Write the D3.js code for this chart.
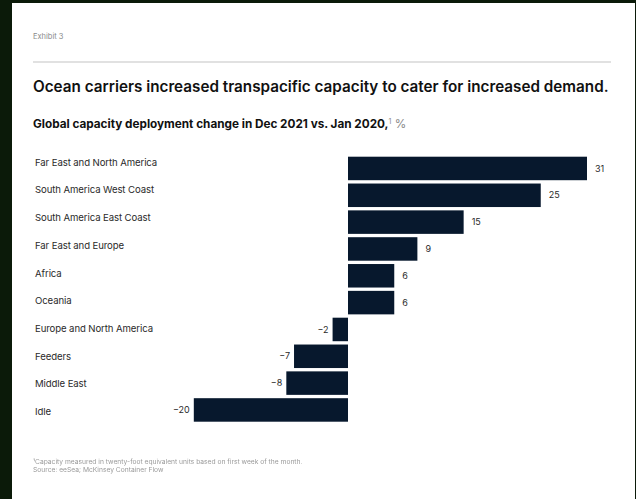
<!DOCTYPE html>
<html>
<head>
<meta charset="utf-8">
<script src="https://cdn.jsdelivr.net/npm/d3@7"></script>
<style>
  html, body { margin: 0; padding: 0; background: #0b1a09; }
  svg { display: block; }
</style>
</head>
<body>
<script>
// Capacity deployment change by trade lane, Dec 2021 vs. Jan 2020 (%)
const categories = [
  "Far East and North America",
  "South America West Coast",
  "South America East Coast",
  "Far East and Europe",
  "Africa",
  "Oceania",
  "Europe and North America",
  "Feeders",
  "Middle East",
  "Idle"
];
const values = [31, 25, 15, 9, 6, 6, -2, -7, -8, -20];
const valueLabels = ["31", "25", "15", "9", "6", "6", "\u22122", "\u22127", "\u22128", "\u221220"];

const W = 636, H = 499;
const svg = d3.select("body").append("svg").attr("width", W).attr("height", H);

// white card
svg.append("rect").attr("x", 12).attr("y", 3).attr("width", 623).attr("height", 496).attr("fill", "#ffffff");

const fontFamily = "Inter, 'Noto Sans', 'Liberation Sans', sans-serif";

// header
svg.append("text").attr("x", 33).attr("y", 39)
  .attr("font-family", fontFamily).attr("font-size", 7.5).attr("fill", "#8a8a8a")
  .text("Exhibit 3");

svg.append("line").attr("x1", 33).attr("x2", 611).attr("y1", 62).attr("y2", 62)
  .attr("stroke", "#c4c4c4").attr("stroke-width", 1.2);

const title = svg.append("text").attr("x", 33).attr("y", 92)
  .attr("font-family", fontFamily).attr("font-size", 15).attr("font-weight", 600)
  .attr("fill", "#111111")
  .text("Ocean carriers increased transpacific capacity to cater for increased demand.");
{
  const len = title.node().getComputedTextLength();
  title.attr("font-size", 15 * 576 / len);
}

const sub = svg.append("text").attr("x", 33).attr("y", 128)
  .attr("font-family", fontFamily).attr("font-size", 10.5).attr("font-weight", 700)
  .attr("fill", "#111111");
sub.append("tspan").text("Global capacity deployment change in Dec 2021 vs. Jan 2020,");
sub.append("tspan").attr("font-size", 7).attr("dy", -4).attr("font-weight", 400).attr("fill", "#888").text("1");
sub.append("tspan").attr("dy", 4).attr("font-weight", 400).attr("fill", "#888").text(" %");
{
  const len = sub.node().getComputedTextLength();
  sub.attr("font-size", 10.5 * 374 / len);
}

// scales
const x = d3.scaleLinear().domain([0, 31]).range([348, 587]);
const y = d3.scaleBand().domain(categories).range([156.7, 421.7]).paddingInner(0.124).paddingOuter(0);
const yLabel = d3.scalePoint().domain(categories).range([162.4, 411.7]);

const data = categories.map((c, i) => ({ cat: c, v: values[i], label: valueLabels[i] }));

// category labels
svg.append("g").selectAll("text").data(data).join("text")
  .attr("x", 35)
  .attr("y", d => yLabel(d.cat))
  .attr("dy", "0.35em")
  .attr("font-family", fontFamily).attr("font-size", 9.6).attr("fill", "#2a2a2a")
  .attr("letter-spacing", -0.1)
  .text(d => d.cat);

// bars
svg.append("g").selectAll("rect").data(data).join("rect")
  .attr("x", d => Math.min(x(0), x(d.v)))
  .attr("y", d => y(d.cat))
  .attr("width", d => Math.abs(x(d.v) - x(0)))
  .attr("height", y.bandwidth())
  .attr("fill", "#07182d");

// value labels
svg.append("g").selectAll("text").data(data).join("text")
  .attr("x", d => d.v >= 0 ? x(d.v) + 8 : x(d.v) - 4)
  .attr("y", d => y(d.cat) + y.bandwidth() / 2)
  .attr("dy", "0.35em")
  .attr("text-anchor", d => d.v >= 0 ? "start" : "end")
  .attr("font-family", fontFamily).attr("font-size", 9).attr("fill", "#2a2a2a")
  .text(d => d.label);

// footnotes
const defs = svg.append("defs");
defs.append("filter").attr("id", "soft").append("feGaussianBlur").attr("stdDeviation", 0.35);
const foot = svg.append("g").attr("filter", "url(#soft)")
  .attr("font-family", fontFamily).attr("font-size", 6.7).attr("fill", "#9a9a9a");
foot.append("text").attr("x", 33).attr("y", 464)
  .text("\u00b9Capacity measured in twenty-foot equivalent units based on first week of the month.");
foot.append("text").attr("x", 33).attr("y", 472)
  .text("Source: eeSea; McKinsey Container Flow");
</script>
</body>
</html>
